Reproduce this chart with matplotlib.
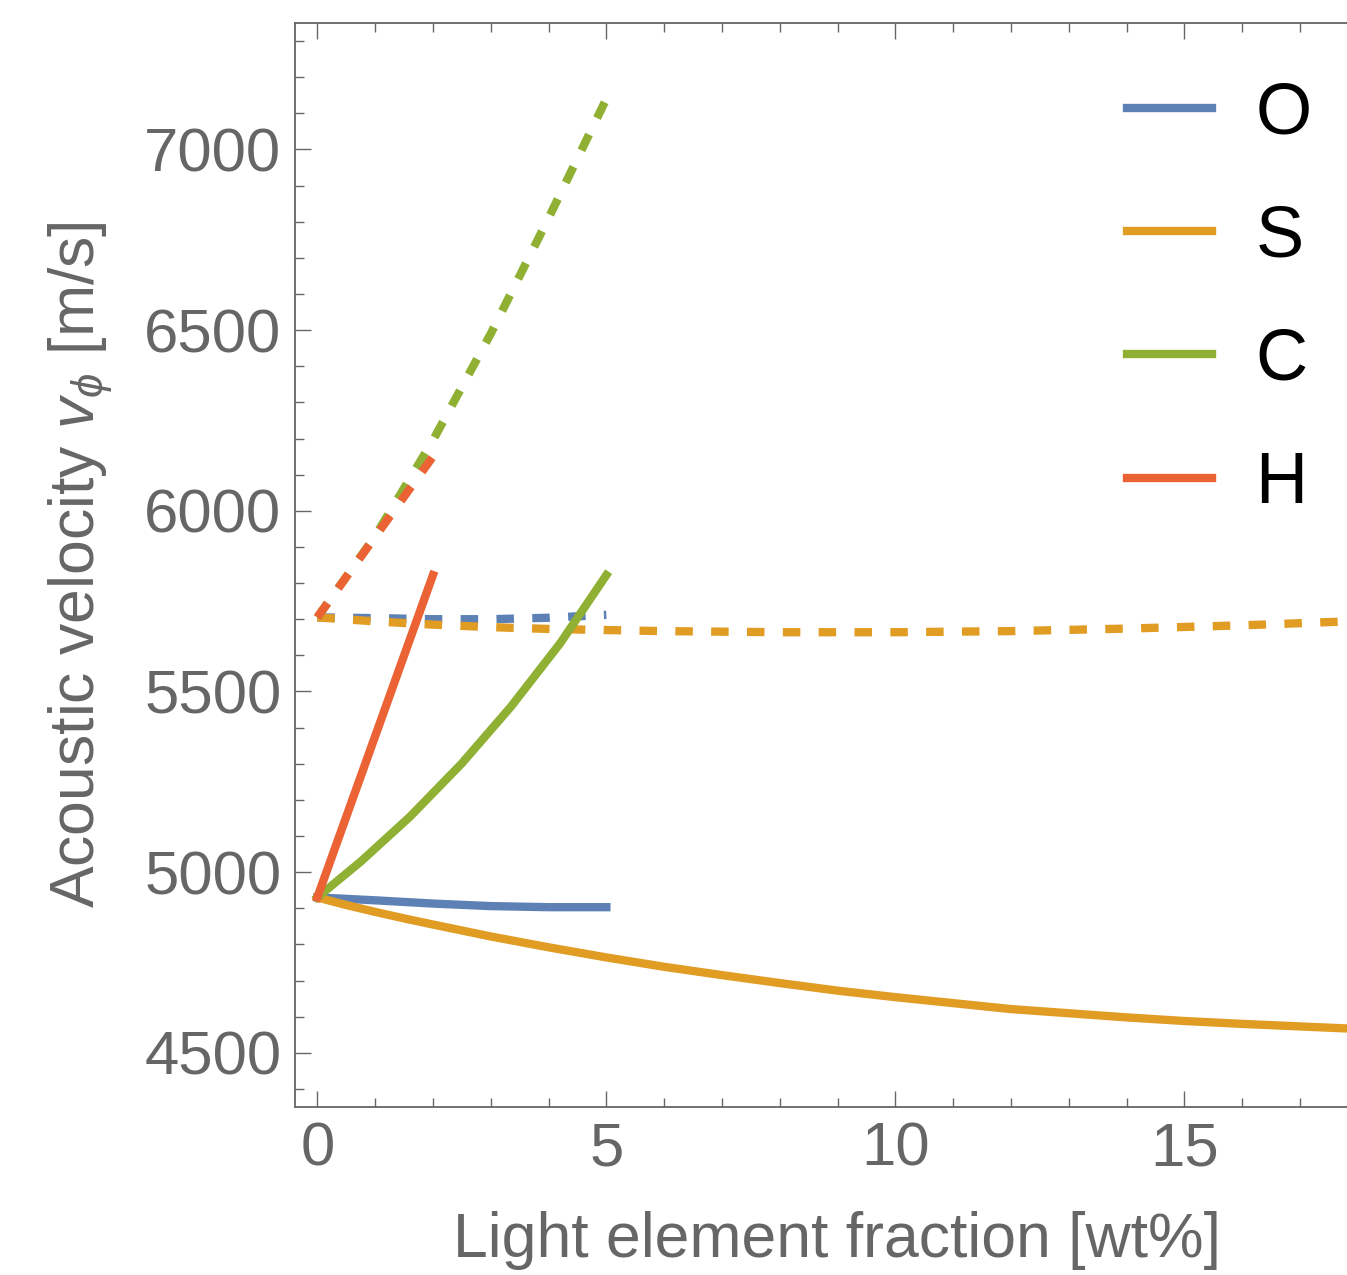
import matplotlib
matplotlib.use("Agg")
import matplotlib.pyplot as plt
from matplotlib.ticker import MultipleLocator
from matplotlib.lines import Line2D

# ---------------- data ----------------
x_O_solid = [0, 1, 2, 3, 4, 5]
v_O_solid = [4930, 4922, 4913, 4906, 4903, 4903]
x_O_dash = [0, 1, 2, 3, 4, 5]
v_O_dash = [5705, 5703, 5700, 5700, 5704, 5712]

x_S_solid = [0, 0.5, 1, 1.5, 2, 3, 4, 5, 6, 7, 8, 9, 10, 12, 14, 15, 16, 18, 20]
v_S_solid = [4930, 4909, 4890, 4872, 4855, 4822, 4792, 4764, 4738, 4715, 4693, 4672,
             4654, 4621, 4598, 4588, 4580, 4566, 4555]
x_S_dash = [0, 1, 2, 3, 4, 5, 6, 8, 10, 12, 14, 16, 18, 20]
v_S_dash = [5705, 5694, 5685, 5678, 5673, 5670, 5667, 5664, 5664, 5667, 5674, 5683, 5695, 5708]

x_C_solid = [0, 0.75, 1.6, 2.5, 3.35, 4.2, 5]
v_C_solid = [4930, 5029, 5153, 5301, 5458, 5633, 5822]
x_C_dash = [0, 1, 2, 3, 4, 5]
v_C_dash = [5705, 5930, 6195, 6490, 6810, 7140]

x_H_solid = [0, 1, 2]
v_H_solid = [4930, 5376, 5822]
x_H_dash = [0, 1, 2]
v_H_dash = [5705, 5928, 6150]

elements = ["O", "S", "C", "H"]
colors = ["#5E81B5", "#E19C24", "#8FB032", "#EB6235"]

x_ticks = [0, 5, 10, 15]
y_ticks = [4500, 5000, 5500, 6000, 6500, 7000]

# ---------------- style ----------------
plt.rcParams['font.family'] = ['Liberation Sans', 'DejaVu Sans']
plt.rcParams['mathtext.fontset'] = 'custom'
plt.rcParams['mathtext.rm'] = 'Liberation Sans'
plt.rcParams['mathtext.it'] = 'Liberation Sans:italic'
plt.rcParams['mathtext.fallback'] = 'stixsans'

gray = "#666666"
W, H = 1347, 1275
fig = plt.figure(figsize=(W / 100, H / 100), dpi=100)
ax = fig.add_axes([295.3 / W, (H - 1107) / H, (1378 - 295.3) / W, (1107 - 23) / H])

lw = 6
series = [
    (x_O_solid, v_O_solid, x_O_dash, v_O_dash),
    (x_S_solid, v_S_solid, x_S_dash, v_S_dash),
    (x_C_solid, v_C_solid, x_C_dash, v_C_dash),
    (x_H_solid, v_H_solid, x_H_dash, v_H_dash),
]
for (xs, vs, xd, vd), c in zip(series, colors):
    ax.plot(xs, vs, color=c, lw=lw, solid_capstyle='projecting', solid_joinstyle='round')
    ax.plot(xd, vd, color=c, lw=lw, dashes=(2.1, 2.2), dash_capstyle='butt')

ax.set_xlim(-0.381, 18.35)
ax.set_ylim(4350, 7350)

ax.set_xticks(x_ticks)
ax.set_yticks(y_ticks)
ax.xaxis.set_minor_locator(MultipleLocator(1))
ax.yaxis.set_minor_locator(MultipleLocator(100))

for side in ['left', 'bottom', 'top']:
    ax.spines[side].set_color(gray)
    ax.spines[side].set_linewidth(1.3)
ax.spines['right'].set_visible(False)

ax.tick_params(which='both', direction='in', top=True, right=False, color=gray, width=1.0)
ax.tick_params(which='major', length=11.5, labelsize=44.5, labelcolor=gray)
ax.tick_params(which='minor', length=6.5)
ax.tick_params(axis='x', which='major', pad=10.5)
ax.tick_params(axis='y', which='major', pad=10)

ax.set_xlabel("Light element fraction [wt%]", fontsize=45, color=gray)
ax.xaxis.set_label_coords(0.5, -0.096)
ax.set_ylabel(r"Acoustic velocity $v_{\phi}$ [m/s]", fontsize=45, color=gray)
ax.yaxis.set_label_coords(-0.1664, 0.5)

handles = [Line2D([0], [0], color=c, lw=lw) for c in colors]
leg = ax.legend(handles, elements, loc='upper left',
                bbox_to_anchor=(1127 / W, 1 - 81 / H), bbox_transform=fig.transFigure,
                frameon=False, fontsize=52, borderpad=0, borderaxespad=0,
                handlelength=1.18, handletextpad=0.6, labelspacing=0.78)
for t in leg.get_texts():
    t.set_color('black')

fig.savefig("out.png", dpi=100)
